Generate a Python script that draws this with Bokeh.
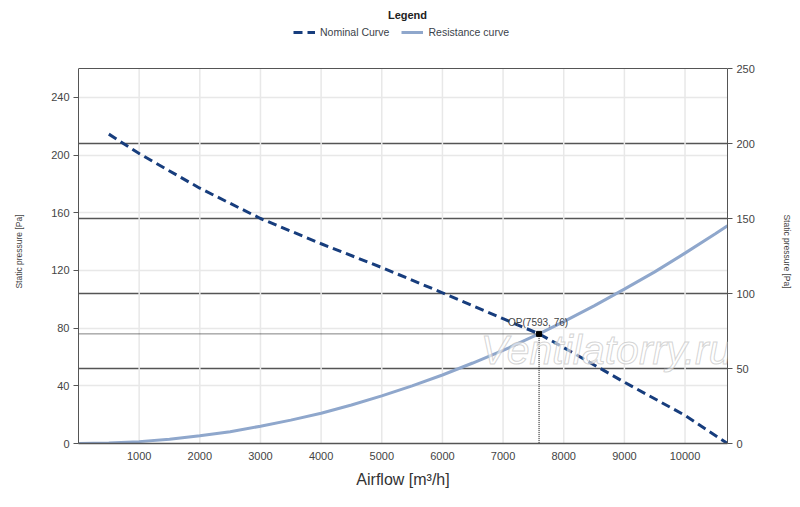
from bokeh.plotting import figure
from bokeh.models import Range1d, LinearAxis, FixedTicker, Grid, Legend, LegendItem, Label
from bokeh.embed import file_html
from bokeh.resources import INLINE

# ---- data ----
nominal_airflow = [500, 1000, 2000, 3000, 4000, 5000, 6000, 7000, 7593, 8000, 9000, 10000, 10700]
nominal_pressure = [214.5, 201, 177, 156, 138.5, 122, 104.5, 86.5, 76, 66.5, 42.5, 19.5, 0]

resistance_airflow = [0, 500, 1000, 1500, 2000, 2500, 3000, 3500, 4000, 4500, 5000, 5500, 6000,
                      6500, 7000, 7500, 7593, 8000, 8500, 9000, 9500, 10000, 10500, 10700]
resistance_pressure = [0, 0.3, 1.3, 3.0, 5.3, 8.2, 12.0, 16.2, 21.0, 26.7, 33.0, 40.0, 47.5,
                       55.8, 64.5, 74.2, 76.0, 84.5, 95.4, 107.0, 119.0, 132.0, 145.5, 151.0]

op_airflow = 7593
op_pressure = 76

x_max = 10700
left_max = 260
right_max = 250
x_ticks = [1000, 2000, 3000, 4000, 5000, 6000, 7000, 8000, 9000, 10000]
left_ticks = [0, 40, 80, 120, 160, 200, 240]
right_ticks = [0, 50, 100, 150, 200, 250]
right_grid_ticks = [50, 100, 150, 200]

FONT = "Liberation Sans"
TXT = "#444444"
AX = "#555555"
PAD = "\u00a0" * 25   # keeps the rotated axis titles centred on the plot box

# frame spans the whole height above the x axis; the plot box itself ends at left_max,
# the space above it holds the legend
TOP_PAD = 68.0      # px between window top and plot box
BOX_H = 375.0       # px height of the plot box
ext = (TOP_PAD + BOX_H) / BOX_H

p = figure(width=800, height=507, output_backend="svg", toolbar_location=None,
           x_range=Range1d(0, x_max), y_range=Range1d(0, left_max * ext),
           min_border_left=78, min_border_right=73, min_border_bottom=64, min_border_top=0)
p.extra_y_ranges = {"right": Range1d(0, right_max * ext)}

p.outline_line_color = None
p.background_fill_color = "white"
p.border_fill_color = "white"

# x axis
xa = p.xaxis[0]
xa.ticker = FixedTicker(ticks=x_ticks)
xa.axis_label = "Airflow [m³/h]"
xa.axis_label_text_font = FONT
xa.axis_label_text_font_size = "16px"
xa.axis_label_text_font_style = "normal"
xa.axis_label_text_color = "#333333"
xa.axis_label_standoff = 8
xa.major_label_text_font = FONT
xa.major_label_text_font_size = "11px"
xa.major_label_text_color = TXT
xa.major_label_standoff = 8
xa.major_tick_out = 0
xa.major_tick_in = 0
xa.minor_tick_out = 0
xa.minor_tick_in = 0
xa.axis_line_color = AX
xa.axis_line_width = 1.5

# left axis
ya = p.yaxis[0]
ya.ticker = FixedTicker(ticks=left_ticks)
ya.bounds = (0, left_max)
ya.axis_label = "Static pressure [Pa]" + PAD
ya.axis_label_text_font = FONT
ya.axis_label_text_font_size = "8.5px"
ya.axis_label_text_font_style = "normal"
ya.axis_label_text_color = TXT
ya.axis_label_standoff = 24
ya.major_label_text_font = FONT
ya.major_label_text_font_size = "11px"
ya.major_label_text_color = TXT
ya.major_label_standoff = 4
ya.major_tick_out = 5
ya.major_tick_in = 0
ya.major_tick_line_color = AX
ya.minor_tick_out = 0
ya.minor_tick_in = 0
ya.axis_line_color = AX

# right axis
ra = LinearAxis(y_range_name="right", ticker=FixedTicker(ticks=right_ticks), bounds=(0, right_max))
ra.axis_label = PAD + "Static pressure [Pa]"
ra.axis_label_text_font = FONT
ra.axis_label_text_font_size = "8.5px"
ra.axis_label_text_font_style = "normal"
ra.axis_label_text_color = TXT
ra.axis_label_standoff = 24
ra.major_label_text_font = FONT
ra.major_label_text_font_size = "11px"
ra.major_label_text_color = TXT
ra.major_label_standoff = 4
ra.major_tick_out = 5
ra.major_tick_in = 0
ra.major_tick_line_color = AX
ra.minor_tick_out = 0
ra.minor_tick_in = 0
ra.axis_line_color = AX
p.add_layout(ra, "right")

# grids
p.xgrid.visible = False
p.segment(x0=x_ticks, y0=[0] * len(x_ticks), x1=x_ticks, y1=[left_max] * len(x_ticks),
          line_color="#e8e8e8", line_width=1.5)
p.ygrid.ticker = FixedTicker(ticks=left_ticks)
p.ygrid.grid_line_color = "#e8e8e8"
p.ygrid.grid_line_width = 1.5
dark_grid = Grid(dimension=1, ticker=FixedTicker(ticks=right_grid_ticks), y_range_name="right",
                 grid_line_color="#555555", grid_line_width=1.3)
p.add_layout(dark_grid)
# top edge of the plot box
p.line([0, x_max], [left_max, left_max], line_color=AX, line_width=1.2)

# curves
res = p.line(resistance_airflow, resistance_pressure, line_color="#8fa7cc", line_width=3)
nom = p.line(nominal_airflow, nominal_pressure, line_color="#173d7d", line_width=3, line_dash="9 5")

# operating point guides
p.line([0, op_airflow], [op_pressure, op_pressure], line_color="black", line_width=1, line_dash="1 1")
p.line([op_airflow, op_airflow], [op_pressure, 0], line_color="black", line_width=1, line_dash="1 1")
p.scatter([op_airflow], [op_pressure], marker="square", size=5, color="black")
p.add_layout(Label(x=op_airflow, y=op_pressure, x_offset=-31, y_offset=6,
                   text="OP(" + str(op_airflow) + ", " + str(op_pressure) + ")",
                   text_font=FONT, text_font_size="10px", text_color=TXT, text_baseline="bottom"))

# watermark
p.add_layout(Label(x=8700, y=64.5, text="Ventilatorry.ru", text_align="center", text_baseline="middle",
                   text_font=FONT, text_font_size="41px", text_font_style="italic",
                   text_color="white", text_alpha=0.6, text_outline_color="#b8b8b8"))

# legend in the space above the plot box
legend = Legend(items=[LegendItem(label="Nominal Curve", renderers=[nom]),
                       LegendItem(label="Resistance curve", renderers=[res])],
                orientation="horizontal", location=(215, 405),
                margin=0, padding=0, spacing=12, glyph_width=22, glyph_height=12,
                label_height=12, label_standoff=5,
                label_text_font=FONT, label_text_font_size="10.5px", label_text_color="#3a3f4a",
                border_line_color=None, background_fill_color=None)
p.add_layout(legend, "center")
p.add_layout(Label(x=329, y=429, x_units="screen", y_units="screen", text="Legend",
                   text_align="center", text_baseline="middle", text_font=FONT,
                   text_font_size="11px", text_font_style="bold", text_color="#222222"))

open("out.html", "w").write(file_html(p, INLINE))
